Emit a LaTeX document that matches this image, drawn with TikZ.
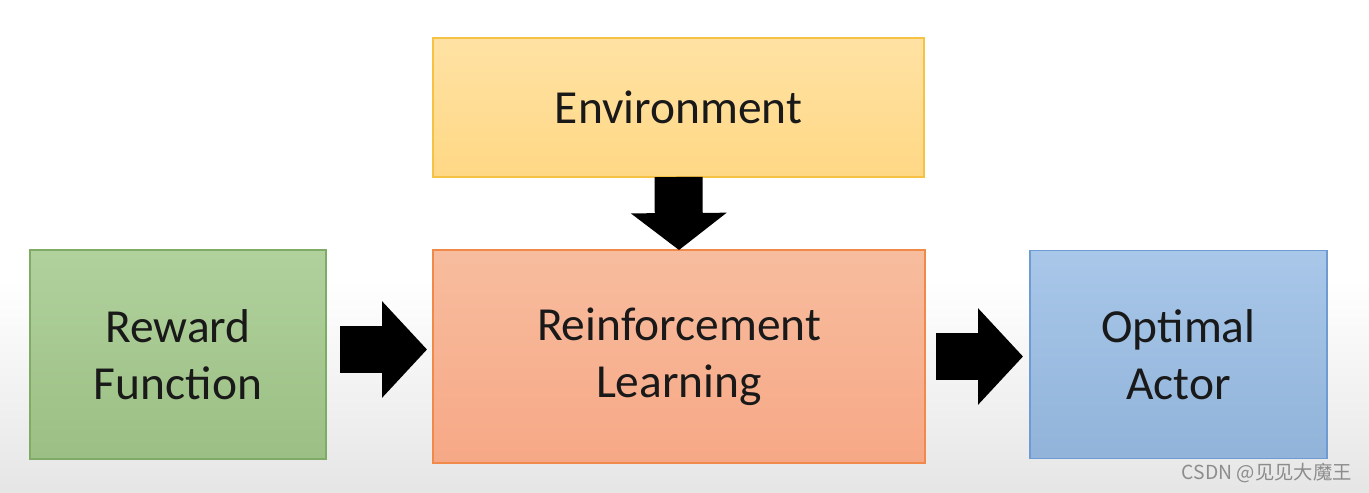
\documentclass[tikz,border=0pt]{standalone}
\usepackage{fontspec}
\setmainfont{Carlito}
\newfontfamily\cjk{Noto Sans CJK SC}
\usetikzlibrary{arrows.meta,calc}
\definecolor{envfill}{HTML}{FFD885}
\definecolor{envdraw}{HTML}{F6C244}
\definecolor{rewfill}{HTML}{A3C98B}
\definecolor{rewdraw}{HTML}{7FAB66}
\definecolor{rlfill}{HTML}{F6B18D}
\definecolor{rldraw}{HTML}{F08A4B}
\definecolor{actfill}{HTML}{99BDE5}
\definecolor{actdraw}{HTML}{6E9BD2}

\begin{document}
\begin{tikzpicture}[x=0.02cm,y=-0.02cm,
  box/.style={rectangle,draw,line width=1.1pt,outer sep=0pt,align=center,
    font=\fontsize{27}{32.5}\selectfont,text=black!90},
  blockarrow/.style={line width=0.96cm,-{Triangle[width=1.88cm,length=#1]}},
  blockarrow/.default=0.9cm]
\useasboundingbox (0,0) rectangle (1369,493);
\fill[white] (0,0) rectangle (1369,280);
\shade[top color=white,bottom color=black!10] (0,280) rectangle (1369,493);
% boxes
\node [box,draw=envdraw,top color=envfill!75,bottom color=envfill,minimum width=9.82cm,minimum height=2.78cm] (env) at (678.5,107.5) {Environment};
\node [box,draw=rewdraw,top color=rewfill!85,bottom color=rewfill!95!black,minimum width=5.92cm,minimum height=4.18cm] (reward) at (178,354.5) {Reward\\Function};
\node [box,draw=rldraw,top color=rlfill!85,bottom color=rlfill!95!red,minimum width=9.84cm,minimum height=4.26cm] (rl) at (679,356.5) {Reinforcement\\Learning};
\node [box,draw=actdraw,top color=actfill!85,bottom color=actfill!95!black,minimum width=5.94cm,minimum height=4.16cm] (actor) at (1178.5,354.5) {Optimal\\Actor};
% arrows
\draw [blockarrow=0.74cm] (env.south) -- (rl.north);
\draw [blockarrow] ($(reward.east)+(14,-5)$) coordinate (a1) -- ($(a1 -| rl.west)+(-6,0)$);
\draw [blockarrow] ($(rl.east)+(11,0)$) coordinate (a2) -- ($(a2 -| actor.west)+(-7,0)$);
\node [anchor=east,text=black!45,font=\cjk\fontsize{11}{12}\selectfont,inner sep=0pt] (mark) at (1352,473) {CSDN @见见大魔王};
\end{tikzpicture}
\end{document}
